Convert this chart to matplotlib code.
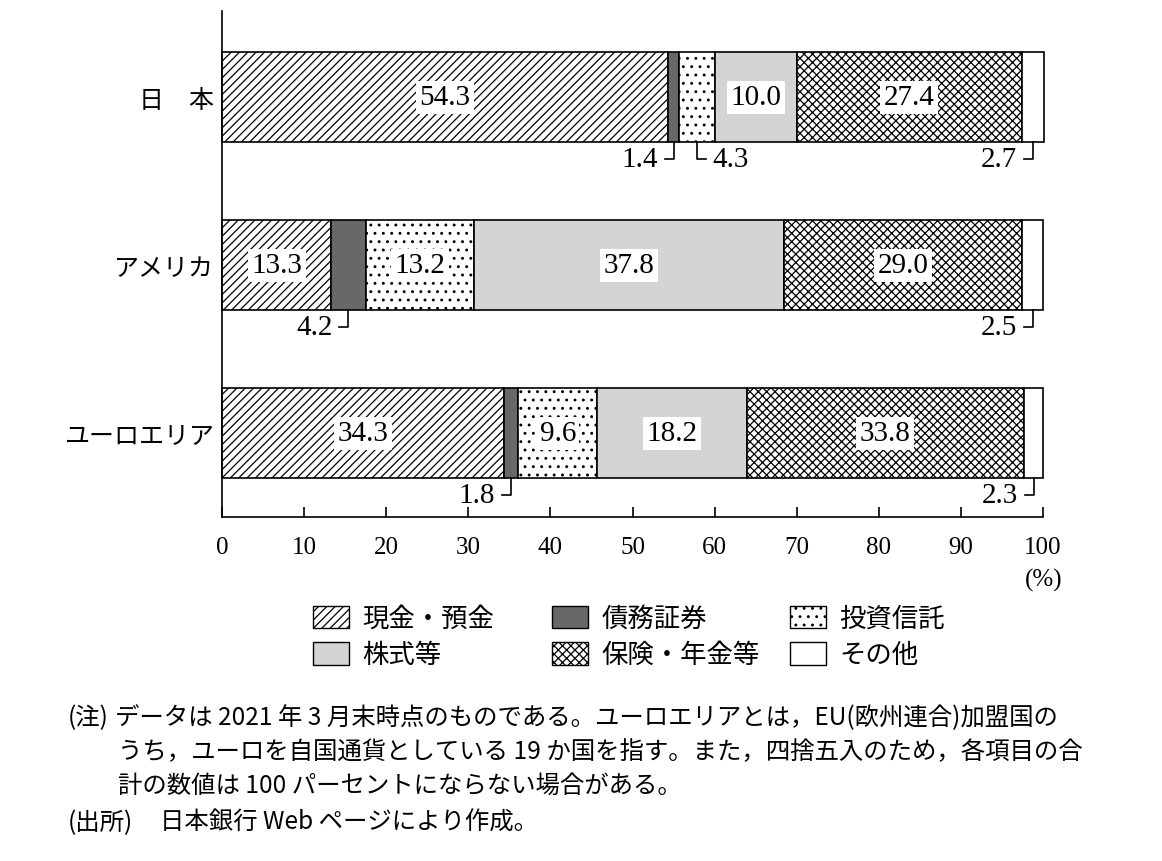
import matplotlib
matplotlib.use("Agg")
import matplotlib.pyplot as plt
from matplotlib.patches import Patch

plt.rcParams['font.family'] = ['Liberation Serif', 'Noto Sans CJK JP']
plt.rcParams['hatch.linewidth'] = 0.9

# ---- data ----
regions = ['日　本', 'アメリカ', 'ユーロエリア']
categories = ['現金・預金', '債務証券', '投資信託', '株式等', '保険・年金等', 'その他']
cash = [54.3, 13.3, 34.3]
bonds = [1.4, 4.2, 1.8]
funds = [4.3, 13.2, 9.6]
stocks = [10.0, 37.8, 18.2]
insurance = [27.4, 29.0, 33.8]
others = [2.7, 2.5, 2.3]
series = [cash, bonds, funds, stocks, insurance, others]
xticks = [0, 10, 20, 30, 40, 50, 60, 70, 80, 90, 100]

# ---- styles ----
fills = ['white', '#686868', 'white', '#d4d4d4', 'white', 'white']
hatches = ['////', None, '..', None, 'xxxx', None]
callout_right = {(0, 2)}   # (region, category) whose callout points right
jp = ['Noto Sans CJK JP']

fig = plt.figure(figsize=(11.62, 8.62), dpi=100)
W, H = 1162, 862
ax = fig.add_axes([222 / W, 1 - 518 / H, (1043 - 222) / W, (518 - 12) / H])

bar_h = 0.536
ypos = list(range(len(regions)))
lefts = [0.0] * len(regions)
for ci, vals in enumerate(series):
    ax.barh(ypos, vals, left=lefts, height=bar_h, color=fills[ci],
            edgecolor='black', linewidth=1.2, hatch=hatches[ci], clip_on=False)
    for ri, v in enumerate(vals):
        xc = lefts[ri] + v / 2
        if v >= 5:
            ax.text(xc, ri, f'{v:.1f}', ha='center', va='center', fontsize=21,
                    bbox=dict(boxstyle='square,pad=0.12', fc='white', ec='none'))
        else:
            y0 = ri + bar_h / 2
            y1 = y0 + 0.1
            d = 1 if (ri, ci) in callout_right else -1
            ax.plot([xc, xc, xc + d * 1.1], [y0, y1, y1], color='black',
                    lw=1.2, clip_on=False)
            ax.text(xc + d * 1.9, y1, f'{v:.1f}', ha='left' if d > 0 else 'right',
                    va='center', fontsize=21)
    lefts = [l + v for l, v in zip(lefts, vals)]

ax.set_xlim(0, 100)
ax.set_ylim(2.5, -0.512)
ax.set_yticks(ypos)
ax.set_yticklabels(regions, fontsize=18, family=jp)
ax.tick_params(axis='y', length=0, pad=6)
ax.set_xticks(xticks)
ax.set_xticklabels([str(t) for t in xticks], fontsize=18)
ax.tick_params(axis='x', direction='in', length=7, width=1.2, pad=14)
for s in ['top', 'right']:
    ax.spines[s].set_visible(False)
for s in ['left', 'bottom']:
    ax.spines[s].set_linewidth(1.2)

fig.text(1063 / W, 1 - 580 / H, '(%)', ha='right', va='center', fontsize=18)

# ---- legend: three columns of two rows ----
handles = [Patch(facecolor=fills[i], edgecolor='black', hatch=hatches[i], linewidth=1.0)
           for i in range(len(categories))]
col_x = [313, 552, 790]
for c in range(3):
    idx = [c, c + 3]
    leg = fig.legend([handles[i] for i in idx], [categories[i] for i in idx],
                     loc='upper left', bbox_to_anchor=(col_x[c] / W, 1 - 606 / H),
                     frameon=False, borderpad=0, borderaxespad=0,
                     handlelength=1.36, handleheight=0.95, handletextpad=0.5,
                     labelspacing=0.35, prop={'family': jp, 'size': 19})

# ---- notes ----
nfs = 17.6
fig.text(68 / W, 1 - 718 / H, '(注)', fontsize=nfs, va='center', family=jp)
fig.text(115 / W, 1 - 718 / H,
         'データは 2021 年 3 月末時点のものである。ユーロエリアとは，EU(欧州連合)加盟国の',
         fontsize=nfs, va='center', family=jp)
fig.text(118 / W, 1 - 752 / H,
         'うち，ユーロを自国通貨としている 19 か国を指す。また，四捨五入のため，各項目の合',
         fontsize=nfs, va='center', family=jp)
fig.text(118 / W, 1 - 786 / H,
         '計の数値は 100 パーセントにならない場合がある。',
         fontsize=nfs, va='center', family=jp)
fig.text(68 / W, 1 - 823 / H, '(出所)', fontsize=nfs, va='center', family=jp)
fig.text(160 / W, 1 - 823 / H, '日本銀行 Web ページにより作成。',
         fontsize=nfs, va='center', family=jp)

fig.savefig('out.png', dpi=100, facecolor='white')
